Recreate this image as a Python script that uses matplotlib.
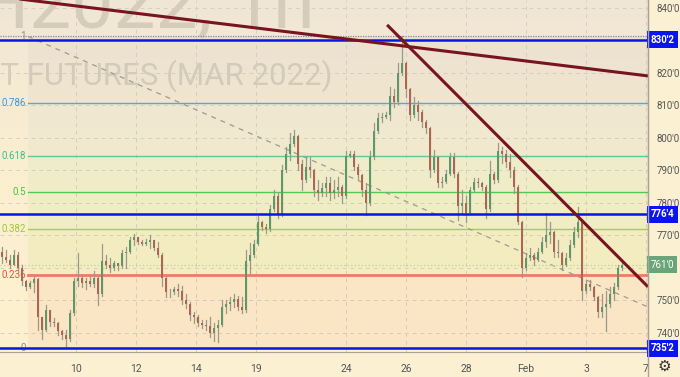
import numpy as np
import matplotlib.pyplot as plt
from matplotlib.lines import Line2D
from matplotlib.colors import LinearSegmentedColormap
from matplotlib.transforms import blended_transform_factory

plt.rcParams['font.family'] = ['Roboto', 'DejaVu Sans']

# hourly-ish candles (price in cents)
high = [766.5, 765.5, 764, 765.5, 764.9, 760.9, 756.3, 756, 757.5, 757,
        745, 748.6, 747, 744.5, 743.5, 741, 741, 747, 757, 764.6,
        757.5, 757, 757.5, 759, 757.5, 767.5, 764, 763, 762, 761.5,
        765.5, 766.5, 769.5, 770.5, 769.5, 768.5, 769, 770.2, 768.5, 768,
        764.5, 757.5, 753.5, 754, 755, 754.5, 752, 749.5, 746.5, 745.5,
        744, 744, 745, 743, 744, 750, 750, 751, 752, 751.5,
        751, 765.5, 767.7, 768.5, 776, 774.5, 773.5, 779.4, 784, 783,
        791.6, 797.2, 801.5, 802.5, 800.8, 793.2, 794, 794, 790.5, 787,
        786, 788, 788, 787, 788, 785.5, 796, 796, 796, 792,
        789, 786, 796, 804.5, 807.7, 807.7, 808, 815.7, 815, 823,
        831.25, 823.5, 815.5, 812.5, 811.5, 808.5, 805.5, 803.5, 796.3, 794.5,
        788, 790, 795.3, 795.3, 789.5, 784, 782, 785, 787.7, 787.7,
        786.5, 785.5, 793, 789.5, 798.5, 797.2, 796.3, 795, 791, 785.5,
        774.5, 764.6, 766, 764.6, 766, 769.5, 777, 774, 771.5, 768.5,
        765, 764.6, 768.5, 772.5, 778.7, 774.8, 756.3, 756.3, 754.5, 751.5,
        752, 753, 754, 755.4, 761, 762]
low = [761.5, 761.8, 760, 761, 759.4, 754.8, 753.2, 753.8, 752.6, 741,
       738, 740.5, 742, 742, 739.5, 738, 735.5, 737.5, 745.5, 754.5,
       754, 753.5, 754.5, 754, 748.5, 751.5, 760, 758.7, 759.4, 759.4,
       760, 760, 764.5, 767, 767.5, 767, 767.2, 766, 765.5, 763.5,
       754.5, 751.2, 751, 752, 751.5, 749, 747.8, 744, 743, 742,
       741.5, 741, 738.8, 737.5, 737.3, 742, 746, 747, 748, 747,
       746, 746.5, 758.5, 763.5, 767, 771.7, 770.7, 771.5, 777.5, 775.5,
       776, 789.5, 793.2, 797.5, 790, 784, 786.5, 788, 782, 781,
       782, 782, 781, 781.5, 782, 780, 781.5, 794, 790, 787,
       782, 776.3, 779.5, 793.5, 801.5, 805, 806, 805.5, 809.5, 810.5,
       819.5, 812.5, 805.5, 806.5, 805.5, 803.5, 801.5, 788, 789.5, 785,
       785, 786, 788.5, 788, 774.8, 777, 774.2, 776.5, 783.5, 785,
       784, 775.5, 777.5, 786, 786.5, 792.2, 791, 788, 783, 773.5,
       757.3, 759.5, 762.5, 761, 762, 764.5, 766.5, 767.7, 763.5, 763.5,
       759.4, 760.5, 762.5, 766.5, 769.5, 750, 752.3, 753.2, 750, 745,
       745, 740.5, 748, 750, 753.5, 759.5]
close = [763.5, 762.5, 761, 764, 760, 756, 754, 755.5, 756.5, 745,
         741, 747, 743.5, 743, 740.5, 739.5, 738, 746, 756, 757,
         755.5, 756, 755, 757, 752, 762, 761, 760, 761.5, 760.5,
         764.5, 765, 768.5, 769.5, 768, 767.5, 768, 768.5, 766, 764,
         757, 752.5, 752.5, 753.5, 753, 750, 749, 745.5, 745, 743,
         742.5, 742, 740, 741.5, 742.5, 748, 749, 749.5, 750.5, 748,
         747, 762, 764, 767.5, 774, 772.5, 772, 778, 782, 776.5,
         790, 795, 798, 800.5, 792, 787, 791, 790, 784, 783,
         784.5, 786, 783, 784, 785, 782, 794.5, 795, 791, 788.5,
         784, 780, 794, 802, 806, 806.5, 807, 813, 811, 820,
         823, 815, 807, 810, 808, 805, 803, 790, 794, 786,
         786.5, 789, 794, 789, 779, 780, 777, 784, 786.5, 786,
         785, 778, 789, 787, 796, 795, 792.5, 790, 785, 774,
         760, 763, 764, 762.5, 765, 768, 770, 771, 765, 764.5,
         761, 763, 767, 771, 774, 753, 755, 754, 751, 746.5,
         748, 749, 752, 754, 760, 761]
first_open = 765.0

# time axis (trading days from Jan 10)
tick_days = [0, 2, 4, 6, 9, 11, 13, 15, 17, 19]
tick_names = ['10', '12', '14', '19', '24', '26', '28', 'Feb', '3', '7']
price_ticks = list(range(740, 841, 10))

# fibonacci retracement
fib_low, fib_high = 735.25, 831.25
fib_levels = [0, 0.236, 0.382, 0.5, 0.618, 0.786, 1]
fib_labels = ['0', '0.236', '0.382', '0.5', '0.618', '0.786', '1']
fib_line_colors = ['#8a8a8a', '#ef7a68', '#a9cc4e', '#4fcc4f', '#5cc8a0', '#5aa6d6', '#8a8a8a']
fib_text_colors = ['#8a8a8a', '#e8503f', '#9cc83a', '#3fc83f', '#3cc08e', '#3a98d6', '#8a8a8a']
fib_fill_colors = ['#f4a07a', '#c8d96a', '#a6d87a', '#b0d8a0', '#c0cfc8', '#c8c0b8']
fib_start = -1.6

# horizontal levels and trend lines
blue_levels = [830.25, 776.5, 735.25]
blue_texts = ["830'2", "776'4", "735'2"]
last_price = 761.0
trend1_x, trend1_y = [-2.533, 19.067], [843.5, 819.1]
trend2_x, trend2_y = [10.37, 19.067], [834.8, 754.2]
fib_diag_x, fib_diag_y = [-1.6, 19.067], [831.25, 748.0]

n = len(close)
xs = np.arange(n) * 4 / 30 + (2 - 76) / 30
opens = [first_open] + close[:-1]

fig = plt.figure(figsize=(6.8, 3.77), dpi=100, facecolor='#fcf0d2')
ax = fig.add_axes([0, 25 / 377, 648 / 680, 352 / 377])
ax.set_xlim(-76 / 30, (648 - 76) / 30)
ax.set_ylim(734.15, 842.46)

# background gradient
grad = np.linspace(0, 1, 256).reshape(-1, 1)
bg = LinearSegmentedColormap.from_list('bg', ['#fdf1cf', '#fbefd0', '#f0e6d5'])
ax.imshow(grad, aspect='auto', cmap=bg, origin='lower',
          extent=[*ax.get_xlim(), *ax.get_ylim()], zorder=0)

# watermark
ax.text(315 / 648, 1 - 27 / 352, 'ZWH2022, 1h', transform=ax.transAxes,
        ha='right', va='baseline', fontsize=54, color='#d6ccba', zorder=0.5)
ax.text(332 / 648, 1 - 85 / 352, 'WHEAT FUTURES (MAR 2022)', transform=ax.transAxes,
        ha='right', va='baseline', fontsize=22.5, color='#d6ccba', zorder=0.5)

# grid
for y in price_ticks:
    ax.axhline(y, color='#d6d0c4', lw=0.7, ls=(0, (4, 4)), zorder=1)
for d in tick_days:
    ax.axvline(d, color='#d6d0c4', lw=0.7, ls=(0, (4, 4)), zorder=1)

# fib bands and levels
prices = [fib_low + f * (fib_high - fib_low) for f in fib_levels]
xr = ax.get_xlim()[1]
for k in range(len(prices) - 1):
    ax.fill_between([fib_start, xr], prices[k], prices[k + 1],
                    color=fib_fill_colors[k], alpha=0.13, lw=0, zorder=1.5)
for k, p in enumerate(prices):
    if fib_levels[k] in (0, 1):
        ax.plot([-2.533, xr], [p, p], color=fib_line_colors[k], lw=0.9,
                ls=(0, (1, 1)), zorder=2)
    else:
        ax.plot([fib_start, xr], [p, p], color=fib_line_colors[k],
                lw=2.0 if fib_levels[k] == 0.236 else 1.0, zorder=2)
    ax.text(fib_start - 0.07, p, fib_labels[k], ha='right', va='center',
            fontsize=7, color=fib_text_colors[k], zorder=2)
ax.plot(fib_diag_x, fib_diag_y, color='#a09a90', lw=0.9, ls=(0, (4, 4)), zorder=2)

# last price dotted line
ax.axhline(last_price, color='#b8d8a0', lw=1.0, ls=(0, (1, 1.5)), zorder=2)

# candles
for x, o, h, l, c in zip(xs, opens, high, low, close):
    up = c >= o
    ax.plot([x, x], [min(l, o, c), max(h, o, c)], color='#9a9a8c', lw=0.9, zorder=3)
    ax.bar(x, abs(c - o) if c != o else 0.15, bottom=min(o, c), width=0.06,
           color='#5e9868' if up else '#b06452', edgecolor='none', zorder=3.5)

# horizontal blue lines
for p in blue_levels:
    ax.axhline(p, color='#0a14e6', lw=1.8, zorder=4)

# trend lines
ax.plot(trend1_x, trend1_y, color='#781420', lw=2.2, zorder=5, solid_capstyle='butt')
ax.plot(trend2_x, trend2_y, color='#781420', lw=2.2, zorder=5, solid_capstyle='butt')

# axes styling (labels under the price boxes are hidden, as on the chart)
ax.yaxis.tick_right()
ax.set_yticks(price_ticks)
ax.set_yticklabels(['' if v in (760, 830) else f"{v}'0" for v in price_ticks])
ax.set_xticks(tick_days)
ax.set_xticklabels(tick_names)
ax.tick_params(axis='y', length=0, pad=6, labelsize=7, labelcolor='#555555')
ax.tick_params(axis='x', length=0, pad=9, labelsize=7.5, labelcolor='#555555')
for s in ['top', 'left']:
    ax.spines[s].set_visible(False)
ax.spines['right'].set_color('#aaa296')
ax.spines['bottom'].set_color('#aaa296')
fig.add_artist(Line2D([648 / 680, 648 / 680], [0, 1], color='#aaa296', lw=1))

# price boxes
trans = blended_transform_factory(ax.transAxes, ax.transData)
for p, t in zip(blue_levels, blue_texts):
    ax.text(1.004, p, t, transform=trans, ha='left', va='center', fontsize=7,
            fontweight='bold', color='white', clip_on=False, zorder=10,
            bbox=dict(boxstyle='square,pad=0.35', fc='#0a14f0', ec='none'))
ax.text(1.004, last_price, "761'0", transform=trans, ha='left', va='center', fontsize=7,
        color='white', clip_on=False, zorder=10,
        bbox=dict(boxstyle='square,pad=0.35', fc='#6aa57a', ec='none'))

fig.text(664 / 680, 1 - 366 / 377, '\u2699', fontsize=11, color='#333333',
         ha='center', va='center', family='DejaVu Sans')

fig.savefig('out.png', dpi=100, facecolor=fig.get_facecolor())
